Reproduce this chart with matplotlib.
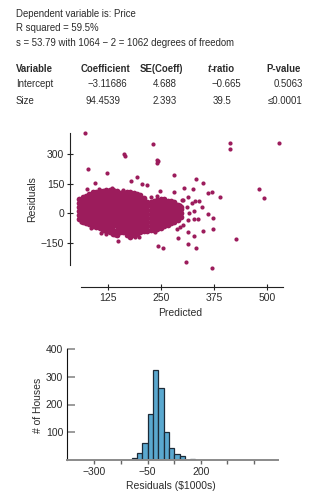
import numpy as np
import matplotlib
matplotlib.use('Agg')
from matplotlib import pyplot as plt

plt.rcParams['font.family'] = ['Liberation Sans Narrow', 'Liberation Sans', 'DejaVu Sans']

# regression summary
header_lines = ['Dependent variable is: Price',
                'R squared = 59.5%',
                's = 53.79 with 1064 \u2212 2 = 1062 degrees of freedom']
table_vars = ['Intercept', 'Size']
table_coef = ['\u22123.11686', '94.4539']
table_se = ['4.688', '2.393']
table_t = ['\u22120.665', '39.5']
table_p = ['0.5063', '\u22640.0001']

# residuals vs predicted: the dense cloud, one list of residuals per predicted column
cloud_pred = [58, 66, 74, 82, 90, 98, 106, 114, 122, 130, 138, 146, 154, 162, 170, 178,
              186, 194, 202, 210, 218, 226, 234, 242, 250, 258, 266, 274, 282, 290, 298]
cloud_res = [
    [-28, -8, 12, 33, 52, 74],
    [-42, -20, 0, 18, 40, 58, 82],
    [-48, -30, -10, 8, 27, 46, 66, 88],
    [-55, -36, -15, 4, 22, 43, 62, 80, 98],
    [-62, -42, -22, -3, 16, 35, 55, 74, 93, 106],
    [-68, -48, -28, -9, 12, 30, 50, 70, 88, 110],
    [-76, -55, -35, -15, 5, 24, 44, 63, 83, 100, 114],
    [-82, -62, -41, -20, -2, 18, 38, 57, 77, 96, 112],
    [-90, -70, -50, -30, -10, 10, 30, 48, 68, 88, 106, 118],
    [-96, -75, -55, -35, -15, 4, 24, 44, 63, 82, 101, 120],
    [-102, -82, -60, -40, -20, 0, 19, 38, 58, 77, 97, 116],
    [-108, -88, -66, -46, -25, -5, 15, 34, 54, 74, 92, 112],
    [-96, -76, -55, -34, -14, 6, 26, 46, 65, 85, 104],
    [-94, -73, -52, -31, -11, 9, 29, 48, 68, 88, 108],
    [-108, -86, -64, -42, -21, -1, 19, 39, 59, 79, 98, 110],
    [-122, -100, -78, -56, -34, -13, 8, 28, 48, 68, 88, 106],
    [-112, -90, -68, -46, -25, -4, 16, 36, 56, 76, 95, 104],
    [-104, -82, -60, -39, -18, 2, 22, 42, 62, 82, 100],
    [-96, -74, -53, -32, -11, 9, 29, 49, 70, 90],
    [-90, -68, -47, -26, -5, 15, 35, 55, 76],
    [-88, -66, -45, -24, -4, 16, 36, 56],
    [-86, -64, -42, -22, -2, 18, 40, 58],
    [-84, -62, -40, -19, 1, 21, 42, 60],
    [-78, -57, -36, -15, 5, 26, 46, 68],
    [-72, -50, -29, -8, 12, 33, 54, 74],
    [-66, -45, -24, -4, 16, 37, 58, 72],
    [-58, -38, -17, 3, 23, 44, 64],
    [-50, -30, -10, 10, 30, 50, 62],
    [-44, -24, -4, 16, 36, 56],
    [-32, -12, 8, 28, 44],
    [-18, 2, 22, 34],
]

# scattered points around the cloud and the outliers
sparse_pred = [71.5, 78, 75, 94, 124, 164, 166, 231, 242, 243, 241, 179, 193, 205, 217,
               150, 142, 189, 413.5, 413.5, 529, 247, 244, 254, 280, 332.5, 349, 304, 325,
               282, 362, 370, 390, 240, 258, 315, 302, 331, 274, 284, 294, 311, 348, 327,
               317, 329, 337, 313, 361, 374, 303, 295, 288, 315, 350, 374, 327, 291, 314,
               332, 428, 309, 370, 482, 493, 323, 339, 299, 62, 86, 110, 134, 198, 226,
               120, 160, 104, 236]
sparse_res = [405, 222, 123, 155, 206, 298, 287, 349, 270, 263, 256, 165, 185, 148, 143,
              -138, -110, -118, 357, 327, 357, 115, -165, -177, 193, 173, 155, 129, 123,
              106, 101, 109, 84, 87, 71, 84, 67, 64, 59, 50, 42, 33, 33, 13,
              0, -30, -30, -34, -5, -22, -59, -68, -81, -93, -88, -81, -115, -125, -155,
              -177, -130, -244, -278, 121, 76, 54, 62, 67, -45, -72, -98, 126, -120, 80,
              -104, 118, 122, -96]

# histogram of residuals
bin_edges = [-125, -100, -75, -50, -25, 0, 25, 50, 75, 100, 125, 150, 175]
bin_counts = [8, 24, 60, 164, 326, 260, 100, 44, 20, 14, 0, 4]

W, H = 323, 497
fig = plt.figure(figsize=(W / 100, H / 100), dpi=100)
txt_color = '#2b2b2b'
fs_top = 6.9


def fx(px):
    return px / W


def fy(py):
    return 1 - py / H


# text block
for line, base in zip(header_lines, [17.3, 30.7, 45.7]):
    fig.text(fx(15.7), fy(base), line, fontsize=fs_top, color=txt_color, va='baseline')

hb = 72
fig.text(fx(15.7), fy(hb), 'Variable', fontsize=fs_top, weight='bold', color=txt_color, va='baseline')
fig.text(fx(105.5), fy(hb), 'Coefficient', fontsize=fs_top, weight='bold', color=txt_color, va='baseline', ha='center')
fig.text(fx(161.7), fy(hb), 'SE(Coeff)', fontsize=fs_top, weight='bold', color=txt_color, va='baseline', ha='center')
fig.text(fx(211), fy(hb), 't', fontsize=fs_top, weight='bold', style='italic', color=txt_color, va='baseline', ha='right')
fig.text(fx(211), fy(hb), '-ratio', fontsize=fs_top, weight='bold', color=txt_color, va='baseline', ha='left')
fig.text(fx(284), fy(hb), 'P-value', fontsize=fs_top, weight='bold', color=txt_color, va='baseline', ha='center')

coef_right = [126.7, 120.7]
t_right = [240.7, 231.7]
for i, base in enumerate([87.3, 104]):
    fig.text(fx(15.7), fy(base), table_vars[i], fontsize=fs_top, color=txt_color, va='baseline')
    fig.text(fx(coef_right[i]), fy(base), table_coef[i], fontsize=fs_top, color=txt_color, va='baseline', ha='right')
    fig.text(fx(176.7), fy(base), table_se[i], fontsize=fs_top, color=txt_color, va='baseline', ha='right')
    fig.text(fx(t_right[i]), fy(base), table_t[i], fontsize=fs_top, color=txt_color, va='baseline', ha='right')
    fig.text(fx(302.5), fy(base), table_p[i], fontsize=fs_top, color=txt_color, va='baseline', ha='right')

# scatter of residuals
ax1 = fig.add_axes([fx(70), fy(287.3), fx(283 - 70), (287.3 - 130) / H])
px = [p for p, col in zip(cloud_pred, cloud_res) for _ in col]
py = [r for col in cloud_res for r in col]
ax1.scatter(px, py, s=17, color='#9c1c5c', linewidths=0)
ax1.scatter(sparse_pred, sparse_res, s=9, color='#9c1c5c', linewidths=0)
ax1.set_xlim(36.1, 537.7)
ax1.set_ylim(-373.7, 420.7)
for s in ['top', 'right']:
    ax1.spines[s].set_visible(False)
ax1.spines['left'].set_bounds(-261, 404)
ax1.spines['bottom'].set_bounds(61, 537)
ax1.spines['left'].set_color('#222222')
ax1.spines['bottom'].set_color('#222222')
ax1.set_xticks([125, 250, 375, 500])
ax1.set_yticks([-150, 0, 150, 300])
ax1.set_yticklabels(['\u2212150', '0', '150', '300'])
ax1.tick_params(direction='inout', length=4.5, width=0.8, labelsize=7.5, colors='#222222',
                labelcolor=txt_color, pad=2)
ax1.set_xlabel('Predicted', fontsize=7.5, color=txt_color)
ax1.set_ylabel('Residuals', fontsize=7.5, color=txt_color)
ax1.xaxis.label.set_va('center')
ax1.yaxis.label.set_va('center')
ax1.xaxis.set_label_coords((180.5 - 70) / 213, (287.3 - 313.3) / 157.3)
ax1.yaxis.set_label_coords((32.3 - 70) / 213, (287.3 - 199) / 157.3)

# histogram
ax2 = fig.add_axes([fx(67.3), fy(460), fx(278.3 - 67.3), 111 / H])
ax2.hist(np.repeat(np.array(bin_edges[:-1]) + 12.5, bin_counts), bins=bin_edges,
         color='#5aa8cf', edgecolor='#1c2a38', linewidth=0.9)
ax2.set_xlim(-427, 564)
ax2.set_ylim(0, 400)
for s in ['top', 'right']:
    ax2.spines[s].set_visible(False)
ax2.spines['left'].set_color('#111111')
ax2.spines['bottom'].set_color('#8a8a8a')
ax2.spines['bottom'].set_linewidth(1.4)
ax2.set_xticks([-300, -175, -50, 75, 200, 325, 450])
ax2.set_xticklabels(['\u2212300', '', '\u221250', '', '200', '', ''])
ax2.set_yticks([100, 200, 300, 400])
ax2.tick_params(axis='x', direction='out', length=3, width=1, colors='#666666',
                labelcolor=txt_color, labelsize=7.5, pad=2)
ax2.tick_params(axis='y', direction='in', length=5.5, width=1.2, colors='#8a8a8a',
                labelcolor=txt_color, labelsize=7.5, pad=3)
ax2.set_xlabel('Residuals ($1000s)', fontsize=7.5, color=txt_color)
ax2.set_ylabel('# of Houses', fontsize=7.5, color=txt_color)
ax2.xaxis.label.set_va('center')
ax2.yaxis.label.set_va('center')
ax2.xaxis.set_label_coords((170.7 - 67.3) / 211, (460 - 486) / 111)
ax2.yaxis.set_label_coords((38 - 67.3) / 211, 0.495)

fig.savefig('out.png', dpi=100)
